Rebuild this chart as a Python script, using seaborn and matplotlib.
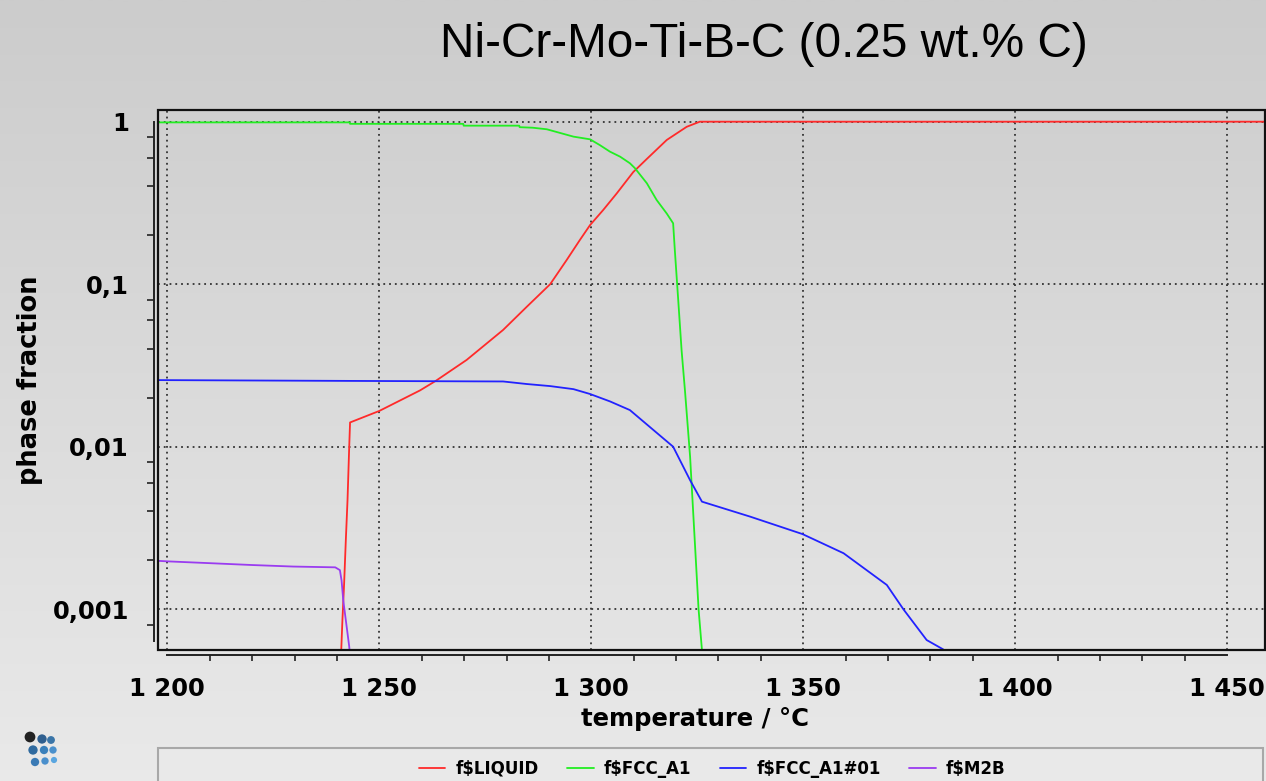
import numpy as np
import pandas as pd
import matplotlib
matplotlib.use("Agg")
import matplotlib.pyplot as plt
import seaborn as sns
from matplotlib.patches import Rectangle
from matplotlib.ticker import FixedLocator, MultipleLocator, NullFormatter
from matplotlib.lines import Line2D

# ---------------- data ----------------
title = "Ni-Cr-Mo-Ti-B-C (0.25 wt.% C)"
x_label = "temperature / °C"
y_label = "phase fraction"
series_names = ["f$LIQUID", "f$FCC_A1", "f$FCC_A1#01", "f$M2B"]
series_colors = ["#ff2a2a", "#22ee22", "#2222ff", "#9a3cf0"]

T_liquid = [1240.8, 1241.3, 1241.7, 1242.1, 1242.5, 1242.9, 1243.1, 1250.0, 1259.6, 1263.3,
            1270.6, 1279.2, 1284.8, 1290.3, 1294.2, 1297.3, 1299.7, 1302.8, 1306.0, 1309.9,
            1313.1, 1317.8, 1322.5, 1325.6, 1460.0]
f_liquid = [0.0004, 0.00086, 0.00144, 0.00266, 0.00468, 0.0100, 0.0141, 0.0166, 0.0222, 0.0254,
            0.0342, 0.0523, 0.0727, 0.100, 0.141, 0.187, 0.231, 0.286, 0.362, 0.49,
            0.59, 0.772, 0.930, 1.0, 1.0]

T_fcc = [1197.0, 1243.0, 1243.1, 1269.8, 1269.9, 1283.0, 1283.1, 1286.2, 1289.5, 1295.8,
         1299.7, 1302.0, 1304.4, 1306.8, 1309.1, 1310.3, 1313.1, 1315.4, 1317.8, 1319.3,
         1319.7, 1320.5, 1321.3, 1322.1, 1323.3, 1325.3, 1326.4]
f_fcc = [0.99, 0.99, 0.97, 0.97, 0.945, 0.945, 0.925, 0.918, 0.898, 0.809,
         0.779, 0.718, 0.654, 0.609, 0.555, 0.517, 0.418, 0.330, 0.272, 0.237,
         0.162, 0.080, 0.039, 0.022, 0.0087, 0.001, 0.00045]

T_fcc01 = [1197.0, 1243.0, 1279.2, 1284.8, 1290.3, 1295.8, 1299.7, 1304.4, 1309.1, 1314.6,
           1319.3, 1323.3, 1326.1, 1337.5, 1349.8, 1359.5, 1369.7, 1373.6, 1379.1, 1383.0]
f_fcc01 = [0.0257, 0.0254, 0.0252, 0.0243, 0.0236, 0.0226, 0.0211, 0.0190, 0.0168, 0.0127,
           0.0100, 0.00622, 0.00459, 0.00371, 0.00290, 0.00221, 0.00141, 0.00100, 0.000646, 0.000566]

T_m2b = [1197.0, 1200.0, 1210.0, 1220.0, 1229.7, 1239.6, 1240.7, 1241.1, 1241.5, 1242.3,
         1242.9, 1243.3]
f_m2b = [0.00199, 0.00197, 0.00192, 0.00187, 0.00183, 0.00181, 0.00174, 0.0015, 0.00113, 0.00078,
         0.00059, 0.00045]

x_ticks = [1200, 1250, 1300, 1350, 1400, 1450]
x_ticklabels = ["1 200", "1 250", "1 300", "1 350", "1 400", "1 450"]
y_ticks = [1, 0.1, 0.01, 0.001]
y_ticklabels = ["1", "0,1", "0,01", "0,001"]

# ---------------- figure ----------------
sns.set_style("white")
plt.rcParams["font.family"] = ["DejaVu Sans"]
plt.rcParams["text.color"] = "black"
plt.rcParams["axes.labelcolor"] = "black"

W, H = 1266, 781
fig = plt.figure(figsize=(W / 100, H / 100), dpi=100)

# background gradient (decoration)
bg = fig.add_axes([0, 0, 1, 1], zorder=-10)
g = np.linspace(0.80, 0.915, 200)[:, None]
img = np.dstack([g, g, g])
bg.imshow(img, aspect="auto", extent=[0, W, H, 0], interpolation="bilinear")
bg.set_xlim(0, W)
bg.set_ylim(H, 0)
bg.axis("off")
# small logo (decoration)
logo_x = [30, 42, 51, 33, 44, 53, 35, 45, 54]
logo_y = [737, 739, 740, 750, 750, 750, 762, 761, 760]
logo_s = [60, 45, 32, 45, 36, 28, 36, 28, 20]
logo_c = ["#222222", "#2f5f8f", "#3a75a8", "#2f6a9f", "#3a80bb", "#4a90cc", "#3a7ab5", "#4a8fcc", "#5aa6e0"]
bg.scatter(logo_x, logo_y, s=logo_s, c=logo_c, edgecolors="none")

# legend box (decoration)
fig.patches.append(Rectangle((158 / W, -0.05), (1263 - 158) / W, (H - 748) / H + 0.05,
                             transform=fig.transFigure, facecolor="#e9e9e9",
                             edgecolor="#a8a8a8", lw=1.5, zorder=-5))

ax = fig.add_axes([158 / W, 1 - 650 / H, (1265 - 158) / W, (650 - 110) / H])
ax.patch.set_alpha(0)

frames = []
for name, T, f in [(series_names[0], T_liquid, f_liquid),
                   (series_names[1], T_fcc, f_fcc),
                   (series_names[2], T_fcc01, f_fcc01),
                   (series_names[3], T_m2b, f_m2b)]:
    frames.append(pd.DataFrame({"T": T, "f": f, "phase": name}))
df = pd.concat(frames, ignore_index=True)

sns.lineplot(data=df, x="T", y="f", hue="phase", hue_order=series_names,
             palette=series_colors, estimator=None, sort=False, lw=1.3,
             ax=ax, legend=False)

ax.set_yscale("log")
ax.set_xlim(1197.8, 1458.9)
ax.set_ylim(0.000561, 1.18)

# frame
ax.add_patch(Rectangle((0, 0), 1, 1, transform=ax.transAxes, fill=False,
                       edgecolor="#111111", lw=1.6, zorder=5, clip_on=False))
for s in ["top", "right"]:
    ax.spines[s].set_visible(False)
for s in ["left", "bottom"]:
    ax.spines[s].set_visible(True)
    ax.spines[s].set_color("#222222")
    ax.spines[s].set_linewidth(1.4)
ax.spines["left"].set_position(("outward", 3))
ax.spines["bottom"].set_position(("outward", 3.6))
ax.spines["left"].set_bounds(0.00064, 1)
ax.spines["bottom"].set_bounds(1200, 1450)

ax.xaxis.set_major_locator(FixedLocator(x_ticks))
ax.set_xticklabels(x_ticklabels)
ax.xaxis.set_minor_locator(MultipleLocator(10))
ax.yaxis.set_major_locator(FixedLocator(y_ticks))
ax.set_yticklabels(y_ticklabels)
minor_y = [m * 10.0 ** e for e in range(-4, 1) for m in (2, 4, 6, 8)
           if 0.00064 <= m * 10.0 ** e <= 1]
ax.yaxis.set_minor_locator(FixedLocator(minor_y))
ax.yaxis.set_minor_formatter(NullFormatter())

ax.tick_params(axis="both", which="major", direction="out", color="#222222",
               width=1.4, labelsize=17.5, labelcolor="black")
ax.tick_params(axis="x", which="major", length=8.5, pad=7)
ax.tick_params(axis="x", which="minor", length=4, width=1.2, color="#222222", direction="out", bottom=True)
ax.tick_params(axis="y", which="major", length=10, pad=8)
ax.tick_params(axis="y", which="minor", length=5, width=1.2, color="#222222", direction="out", left=True)
for lab in ax.get_xticklabels() + ax.get_yticklabels():
    lab.set_fontweight("bold")

ax.grid(True, which="major", axis="both", color="#333333", lw=1.3, linestyle=(0, (1, 2.2)))

ax.set_xlabel(x_label, fontsize=17.5, fontweight="bold", color="black")
ax.set_ylabel(y_label, fontsize=18.5, fontweight="bold", color="black")
ax.xaxis.set_label_coords((695 - 158) / (1265 - 158), -(707 - 650) / (650 - 110))
ax.yaxis.set_label_coords(-(158 - 43) / (1265 - 158), (650 - 380) / (650 - 110))

fig.text(440 / W, 1 - 57 / H, title, fontsize=34.4, family=["Liberation Sans", "DejaVu Sans"],
         ha="left", va="baseline", color="black")

handles = [Line2D([], [], color=c, lw=1.3) for c in series_colors]
leg = fig.legend(handles, series_names, loc="center", bbox_to_anchor=(712 / W, 1 - 769 / H),
                 ncol=4, frameon=False, prop={"weight": "bold", "size": 12},
                 handlelength=1.6, handletextpad=0.6, columnspacing=1.7)
for t in leg.get_texts():
    t.set_color("black")

fig.savefig("out.png", dpi=100)
